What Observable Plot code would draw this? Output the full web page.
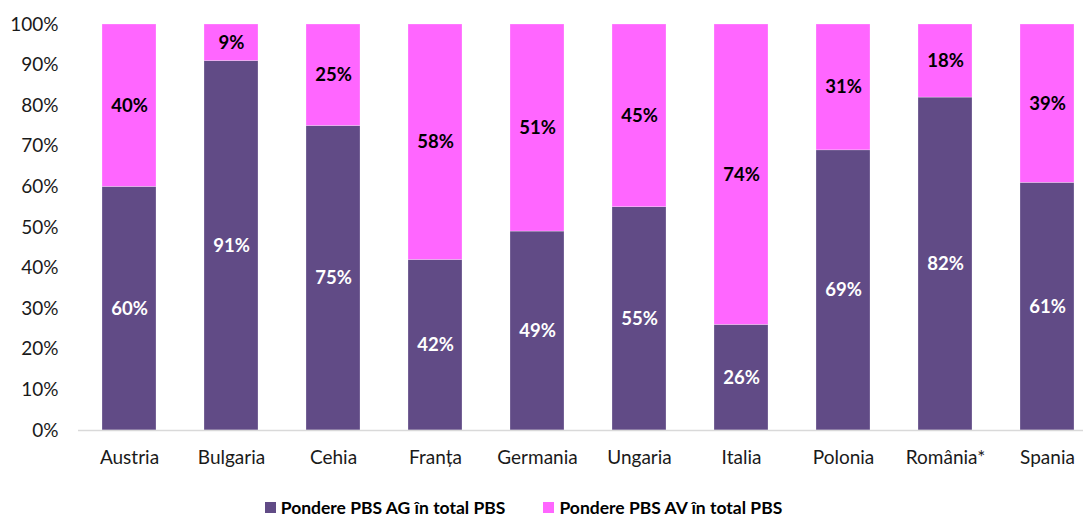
<!DOCTYPE html>
<html>
<head>
<meta charset="utf-8">
<script src="https://cdn.jsdelivr.net/npm/d3@7"></script>
<script src="https://cdn.jsdelivr.net/npm/@observablehq/plot@0.6"></script>
<style>
  body { margin: 0; background: white; font-family: Lato, "Open Sans", sans-serif; }
  #legend { display: flex; justify-content: center; gap: 38px; height: 46px; align-items: center; padding-right: 36px; padding-top: 28px; box-sizing: border-box; }
  .item { display: flex; align-items: center; gap: 5px; font-weight: bold; font-size: 17.5px; color: #000; }
  .sw { width: 11px; height: 11px; display: inline-block; }
</style>
</head>
<body>
<div id="chart"></div>
<div id="legend"></div>
<script>
const countries = ["Austria", "Bulgaria", "Cehia", "Franța", "Germania", "Ungaria", "Italia", "Polonia", "România*", "Spania"];
const ag = [60, 91, 75, 42, 49, 55, 26, 69, 82, 61];
const av = [40, 9, 25, 58, 51, 45, 74, 31, 18, 39];
const seriesNames = ["Pondere PBS AG în total PBS", "Pondere PBS AV în total PBS"];
const colors = ["#614B86", "#FF66FF"];
const yTicks = [0, 10, 20, 30, 40, 50, 60, 70, 80, 90, 100];

const data = [];
countries.forEach((c, i) => {
  data.push({country: c, series: seriesNames[0], value: ag[i]});
  data.push({country: c, series: seriesNames[1], value: av[i]});
});

const stackOpts = {x: "country", y: "value", z: "series", order: seriesNames};

const plot = Plot.plot({
  width: 1083,
  height: 470,
  marginLeft: 78,
  marginRight: 0,
  marginTop: 24,
  marginBottom: 40,
  style: {fontFamily: "Lato, 'Open Sans', sans-serif", fontSize: "19px", color: "#1a1a1a", overflow: "visible"},
  x: {domain: countries, range: [78, 1098], paddingInner: 0.47, paddingOuter: 0.235, label: null, tickSize: 0, tickPadding: 20},
  y: {domain: [0, 100], ticks: yTicks, tickFormat: d => d + "%", label: null, tickSize: 0, tickPadding: 20},
  color: {domain: seriesNames, range: colors},
  marks: [
    Plot.barY(data, Plot.stackY({...stackOpts, fill: "series", stroke: "white", strokeOpacity: 0.5, strokeWidth: 0.5})),
    Plot.text(data, Plot.stackY({...stackOpts, y: "value", text: d => Math.round(d.value) + "%",
      fill: d => d.series === seriesNames[0] ? "white" : "black",
      fontWeight: "bold", fontSize: 18.5})),
    Plot.ruleY([0], {stroke: "#d9d9d9", strokeWidth: 1.5})
  ]
});
document.getElementById("chart").appendChild(plot);

const legend = document.getElementById("legend");
seriesNames.forEach((s, i) => {
  const item = document.createElement("div");
  item.className = "item";
  const sw = document.createElement("span");
  sw.className = "sw";
  sw.style.background = colors[i];
  item.appendChild(sw);
  const t = document.createElement("span");
  t.textContent = s;
  item.appendChild(t);
  legend.appendChild(item);
});
</script>
</body>
</html>
